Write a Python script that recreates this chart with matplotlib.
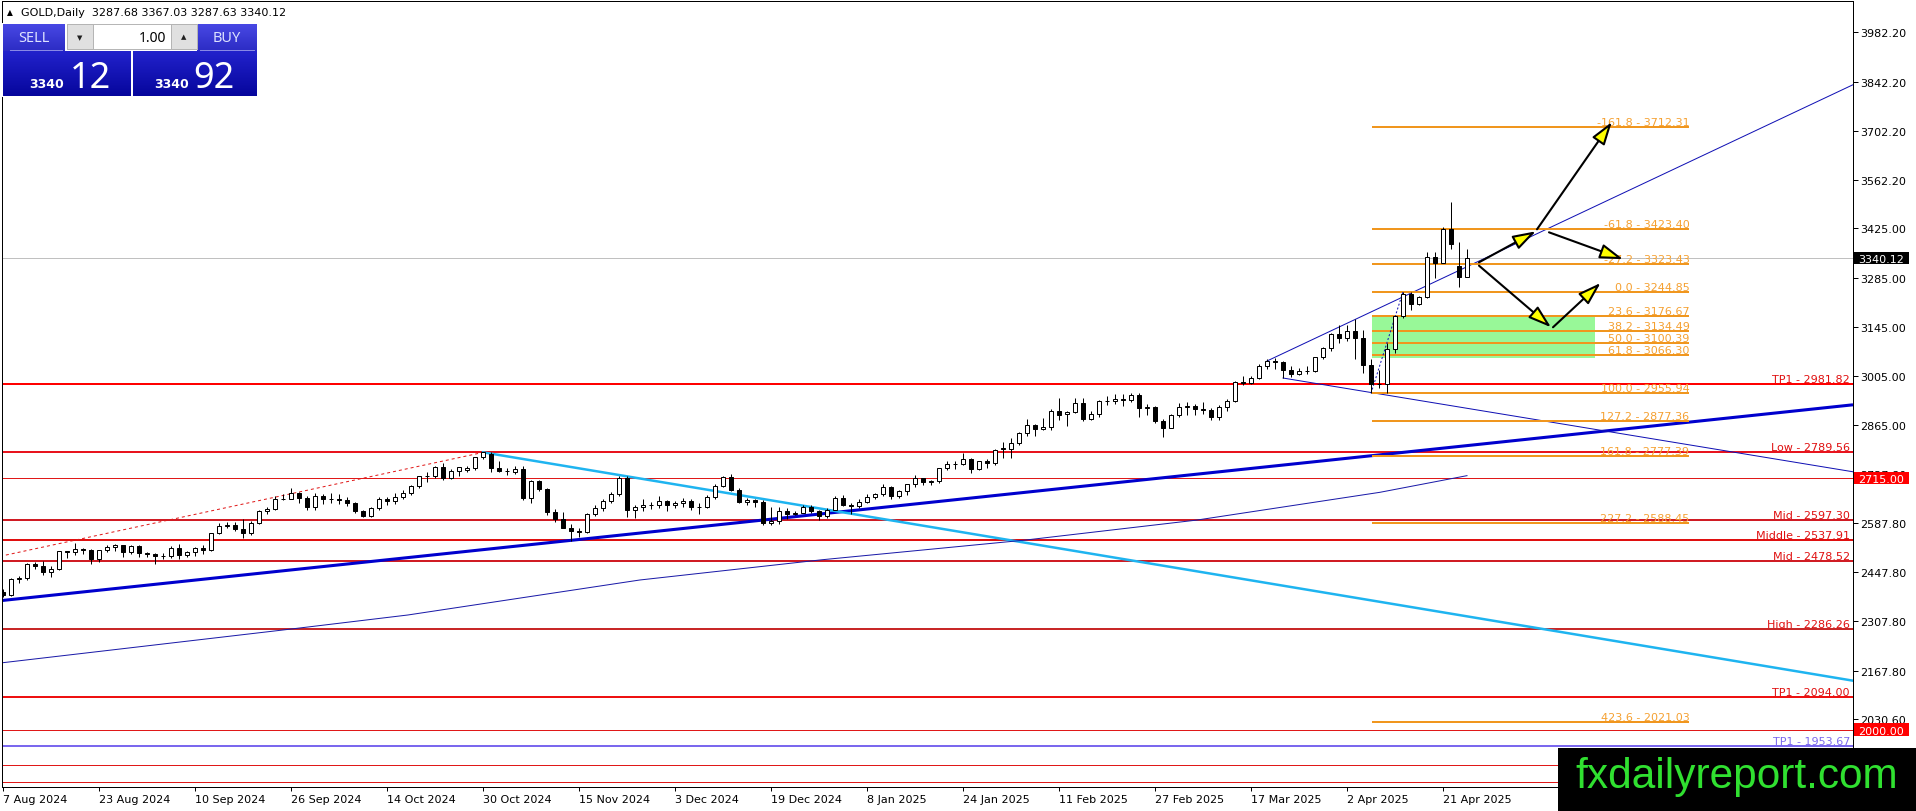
import numpy as np
import matplotlib
matplotlib.use("Agg")
import matplotlib.pyplot as plt
from matplotlib.patches import Rectangle, FancyArrowPatch
from matplotlib.colors import LinearSegmentedColormap
import matplotlib.transforms as mtransforms

# ---------------- data ----------------
opens = [2390,2382,2427,2431,2472,2465,2447,2456,2507,2504,2514,2512,2484,2512,2518,2524,2504,2521,2503,2500,
         2493,2495,2516,2497,2506,2516,2512,2558,2578,2582,2570,2559,2587,2622,2628,2657,2657,2672,2658,2634,
         2663,2657,2656,2653,2644,2622,2608,2630,2657,2649,2662,2674,2693,2721,2720,2748,2715,2736,2737,2743,
         2774,2783,2744,2736,2733,2742,2659,2706,2685,2619,2598,2573,2565,2563,2612,2631,2651,2670,2716,2625,
         2633,2638,2639,2650,2640,2643,2650,2632,2633,2660,2694,2718,2680,2648,2652,2646,2586,2594,2622,2612,
         2617,2634,2621,2606,2625,2658,2640,2636,2648,2662,2670,2690,2663,2677,2697,2714,2703,2708,2743,2755,
         2754,2770,2740,2763,2758,2800,2797,2815,2842,2866,2856,2861,2907,2898,2904,2928,2883,2898,2935,2933,
         2939,2936,2951,2915,2916,2876,2857,2893,2918,2920,2911,2910,2889,2916,2934,2988,2984,3001,3035,3047,
         3044,3023,3012,3020,3019,3058,3085,3124,3113,3134,3114,3037,2983,2982,3083,3176,3237,3211,3230,3343,
         3327,3424,3318,3287.68]
highs = [2400,2432,2438,2474,2477,2479,2464,2509,2509,2531,2517,2513,2512,2525,2528,2526,2524,2524,2506,2503,
         2503,2523,2529,2507,2518,2526,2560,2586,2590,2590,2600,2593,2625,2632,2664,2670,2686,2675,2665,2673,
         2670,2672,2670,2660,2646,2625,2633,2661,2660,2672,2680,2696,2722,2732,2749,2759,2740,2748,2750,2774,
         2790,2790,2763,2745,2750,2749,2711,2709,2686,2628,2618,2584,2574,2615,2639,2656,2675,2721,2722,2640,
         2657,2646,2665,2653,2651,2658,2655,2645,2668,2697,2721,2726,2688,2658,2655,2654,2632,2632,2630,2622,
         2638,2639,2623,2629,2665,2666,2643,2655,2670,2673,2697,2692,2680,2698,2724,2716,2711,2745,2763,2763,
         2786,2773,2765,2770,2799,2817,2830,2845,2882,2870,2886,2911,2942,2906,2942,2944,2905,2938,2947,2955,
         2954,2956,2956,2927,2921,2882,2896,2928,2930,2925,2930,2913,2924,2940,2990,3005,3004,3038,3055,3057,
         3047,3034,3029,3033,3060,3087,3128,3149,3149,3167,3136,3055,3023,3099,3176,3244.85,3245,3232,3357,3358,
         3430,3500,3386,3367.03]
lows = [2377,2380,2418,2425,2458,2440,2433,2453,2488,2497,2499,2470,2477,2504,2507,2491,2500,2492,2490,2472,
        2484,2489,2485,2490,2494,2500,2508,2556,2574,2564,2546,2553,2584,2613,2624,2652,2655,2643,2625,2624,
        2642,2643,2642,2637,2615,2605,2604,2625,2639,2641,2655,2667,2686,2705,2715,2709,2713,2722,2731,2737,
        2770,2731,2733,2725,2726,2652,2643,2677,2610,2590,2572,2537,2547,2560,2607,2622,2645,2665,2605,2603,
        2622,2627,2630,2622,2631,2633,2624,2614,2630,2657,2690,2677,2643,2640,2632,2583,2583,2584,2600,2609,
        2615,2616,2597,2603,2624,2636,2614,2629,2644,2657,2665,2656,2659,2668,2691,2696,2695,2700,2738,2742,
        2753,2730,2737,2745,2753,2773,2772,2810,2834,2834,2853,2853,2880,2864,2900,2876,2880,2890,2922,2925,
        2920,2930,2890,2893,2873,2833,2857,2888,2894,2894,2897,2880,2881,2906,2932,2979,2982,2998,3024,3025,
        2999,3002,3008,3011,3016,3055,3076,3100,3105,3054,3015,2955.94,2971,2957,3072,3170,3194,3206,3228,3284,
        3327,3366,3258,3287.63]
closes = [2382,2427,2431,2472,2465,2447,2456,2507,2504,2514,2512,2484,2512,2518,2524,2504,2521,2503,2500,2493,
          2495,2516,2497,2506,2516,2512,2558,2578,2582,2570,2559,2587,2622,2628,2657,2657,2672,2658,2634,2663,
          2657,2656,2653,2644,2622,2608,2630,2657,2649,2662,2674,2693,2721,2720,2748,2715,2736,2747,2743,2774,
          2788,2744,2736,2736,2742,2659,2706,2685,2619,2598,2573,2565,2563,2612,2631,2651,2670,2716,2625,2633,
          2638,2639,2650,2640,2643,2650,2632,2633,2660,2694,2718,2680,2648,2652,2646,2586,2594,2622,2612,2617,
          2634,2621,2606,2625,2658,2640,2636,2648,2662,2670,2690,2663,2677,2697,2714,2703,2708,2743,2755,2754,
          2770,2740,2763,2758,2794,2797,2815,2842,2866,2856,2861,2907,2894,2904,2928,2883,2898,2935,2933,2939,
          2936,2951,2915,2916,2876,2857,2893,2918,2920,2911,2910,2889,2916,2934,2988,2984,3001,3035,3047,3044,
          3023,3012,3020,3019,3058,3085,3124,3113,3134,3114,3037,2983,2982,3083,3176,3237,3211,3230,3343,3327,
          3424,3381,3288,3340.12]

date_labels = ['7 Aug 2024', '23 Aug 2024', '10 Sep 2024', '26 Sep 2024', '14 Oct 2024', '30 Oct 2024',
               '15 Nov 2024', '3 Dec 2024', '19 Dec 2024', '8 Jan 2025', '24 Jan 2025', '11 Feb 2025',
               '27 Feb 2025', '17 Mar 2025', '2 Apr 2025', '21 Apr 2025']
date_label_bars = [0, 12, 24, 36, 48, 60, 72, 84, 96, 108, 120, 132, 144, 156, 168, 180]

price_ticks = [3982.20, 3842.20, 3702.20, 3562.20, 3425.00, 3285.00, 3145.00, 3005.00, 2865.00,
               2727.80, 2587.80, 2447.80, 2307.80, 2167.80, 2030.60]

# long moving average
ma_bars = [-0.375, 35.3, 50.6, 79.6, 102.4, 127.8, 149.25, 172.1, 183]
ma_values = [2189.4, 2284.1, 2325.9, 2425.4, 2483.0, 2538.9, 2595.8, 2674.6, 2722.0]

# horizontal levels
red_level_names = ['TP1', 'Low', 'Mid', 'Middle', 'Mid', 'High', 'TP1']
red_level_values = [2981.82, 2789.56, 2597.30, 2537.91, 2478.52, 2286.26, 2094.00]
thin_red_levels = [2715.00, 2000.00, 1900.00, 1850.00]
blue_level_name = 'TP1'
blue_level_value = 1953.67

# Fibonacci retracement
fib_ratios = [-161.8, -61.8, -27.2, 0.0, 23.6, 38.2, 50.0, 61.8, 100.0, 127.2, 161.8, 227.2, 423.6]
fib_prices = [3712.31, 3423.40, 3323.43, 3244.85, 3176.67, 3134.49, 3100.39, 3066.30, 2955.94,
              2877.36, 2777.39, 2588.45, 2021.03]
fib_bars = [171.1, 210.8]
fib_anchor_bars = [171, 175]
fib_anchor_prices = [2955.94, 3244.85]
zone_bars = [171.1, 199.0]
zone_prices = [3055.5, 3172.0]

# trend lines (bar, price) end points
thick_blue_bars, thick_blue_prices = [-0.375, 231.25], [2366.5, 2923.4]
cyan_bars, cyan_prices = [60, 231.25], [2788.3, 2139.2]
red_dotted_bars, red_dotted_prices = [-0.375, 60], [2492.7, 2788.0]
upper_thin_bars, upper_thin_prices = [158, 231.25], [3047.9, 3833.2]
lower_thin_bars, lower_thin_prices = [160, 231.25], [2999.5, 2733.0]

# projection arrows (bar, price)
arrow_start_bars = [184.5, 191.75, 193.25, 184.5, 193.75]
arrow_start_prices = [3328.4, 3422.2, 3413.7, 3318.9, 3143.8]
arrow_end_bars = [191.6, 201.1, 202.5, 193.5, 199.7]
arrow_end_prices = [3416.5, 3727.2, 3337.3, 3143.8, 3269.7]

bid = closes[-1]
ask = 3340.92
lot = 1.00

# ---------------- figure ----------------
W, H = 1916, 812
L_px, R_px, T_px, B_px = 2, 1853, 2, 788
Y_TOP, Y_BOT = 4071.2, 1837.0
fig = plt.figure(figsize=(W / 100, H / 100), dpi=100, facecolor='white')
ax = fig.add_axes([L_px / W, 1 - B_px / H, (R_px - L_px) / W, (B_px - T_px) / H])
ax.set_xlim(-0.125, 231.25)
ax.set_ylim(Y_BOT, Y_TOP)
ax.set_facecolor('white')
px_per_unit = (B_px - T_px) / (Y_TOP - Y_BOT)

FONT = 'DejaVu Sans'
FS = 8
RED = '#ff0000'
DARKRED = '#d01c24'
ORANGE = '#f0961e'
ORANGE_TXT = '#f5a030'
lw1 = 0.72
lw2 = 1.44

for s in ax.spines.values():
    s.set_color('black')
    s.set_linewidth(lw1)

# y axis on the right
ax.yaxis.tick_right()
ax.set_yticks(price_ticks)
ax.set_yticklabels([f"{v:.2f}" for v in price_ticks], fontsize=FS, family=FONT)
ax.tick_params(axis='y', direction='out', length=3.6, width=lw1, pad=1.5, colors='black')

ax.set_xticks(date_label_bars)
ax.set_xticklabels(date_labels, fontsize=FS, family=FONT, ha='left')
ax.tick_params(axis='x', direction='out', length=3, width=lw1, pad=2, colors='black')

# background zone
ax.add_patch(Rectangle((zone_bars[0], zone_prices[0]), zone_bars[1] - zone_bars[0],
                       zone_prices[1] - zone_prices[0], facecolor='#98f898', edgecolor='none', zorder=0.5))

# bid line
ax.axhline(bid, color='#c0c0c0', lw=lw1, zorder=1)

# thin red levels
for v in thin_red_levels:
    ax.axhline(v, color='#e01818', lw=lw1, zorder=1.2)

# thick red levels with labels
red_styles = [RED, '#e8141e', DARKRED, '#e01010', DARKRED, '#c82828', '#ee1111']
for name, v, col in zip(red_level_names, red_level_values, red_styles):
    ax.axhline(v, color=col, lw=lw2, zorder=1.3)
    ax.annotate(f"{name} - {v:.2f}", xy=(1.0, v), xycoords=('axes fraction', 'data'),
                xytext=(-3, 2), textcoords='offset pixels', ha='right', va='baseline',
                color='#e01010', fontsize=FS, family=FONT, zorder=6)

ax.axhline(blue_level_value, color='#7b68ee', lw=lw2, zorder=1.3)
ax.annotate(f"{blue_level_name} - {blue_level_value:.2f}", xy=(1.0, blue_level_value),
            xycoords=('axes fraction', 'data'), xytext=(-3, 2), textcoords='offset pixels',
            ha='right', va='baseline', color='#7b68ee', fontsize=FS, family=FONT, zorder=6)

# trend lines
ax.plot(thick_blue_bars, thick_blue_prices, color='#0000cd', lw=2.2, zorder=1.6, solid_capstyle='butt')
ax.plot(cyan_bars, cyan_prices, color='#1eb4f0', lw=1.8, zorder=1.6)
ax.plot(red_dotted_bars, red_dotted_prices, color='#e01818', lw=lw1, ls=(0, (3, 3)), zorder=1.6)
ax.plot(upper_thin_bars, upper_thin_prices, color='#1010b4', lw=lw1, zorder=1.6)
ax.plot(lower_thin_bars, lower_thin_prices, color='#1010b4', lw=lw1, zorder=1.6)
ax.plot(ma_bars, ma_values, color='#1a1aa8', lw=lw1, zorder=1.6)

# Fibonacci
ax.hlines(fib_prices, fib_bars[0], fib_bars[1], color=ORANGE, lw=lw2, zorder=1.8)
ax.plot(fib_anchor_bars, fib_anchor_prices, color='#1010b4', lw=lw1, ls=(0, (2, 2)), zorder=1.9)
for r, p in zip(fib_ratios, fib_prices):
    ax.annotate(f"{r:.1f} - {p:.2f}", xy=(fib_bars[1], p), xytext=(0, 2), textcoords='offset pixels',
                ha='right', va='baseline', color=ORANGE_TXT, fontsize=FS, family=FONT, zorder=6)

# candles
o = np.array(opens, float); h = np.array(highs, float)
l = np.array(lows, float); c = np.array(closes, float)
x = np.arange(len(o))
up = c >= o
ax.vlines(x, l, h, color='black', lw=lw1, zorder=3)
bb = np.minimum(o, c); bh = np.abs(c - o)
ax.bar(x[up], bh[up], bottom=bb[up], width=0.58, facecolor='white', edgecolor='black',
       linewidth=lw1, zorder=4)
ax.bar(x[~up], bh[~up], bottom=bb[~up], width=0.58, facecolor='black', edgecolor='black',
       linewidth=lw1, zorder=4)

# arrows
for xs, ys, xe, ye in zip(arrow_start_bars, arrow_start_prices, arrow_end_bars, arrow_end_prices):
    ar = FancyArrowPatch((xs, ys), (xe, ye), arrowstyle='-|>,head_length=1.4,head_width=0.45',
                         mutation_scale=10, facecolor='#ffff00', edgecolor='black', lw=1.5,
                         shrinkA=0, shrinkB=0, zorder=7)
    ax.add_patch(ar)

# axis price boxes
blend = mtransforms.blended_transform_factory(ax.transAxes, ax.transData)
box_w = 55 / (R_px - L_px)
box_x0 = (1854 - L_px) / (R_px - L_px)
txt_x0 = (1858.5 - L_px) / (R_px - L_px)
half_h = 6.3 / px_per_unit
for v, fc in [(bid, 'black'), (2715.00, '#ff0000'), (2000.00, '#ff0000')]:
    ax.add_patch(Rectangle((box_x0, v - half_h), box_w, 2 * half_h, transform=blend,
                           facecolor=fc, edgecolor='none', clip_on=False, zorder=8))
    ax.text(txt_x0, v, f"{v:.2f}", transform=blend, ha='left', va='center_baseline', color='white',
            fontsize=FS, family=FONT, clip_on=False, zorder=9)

# ---------------- overlay (header, trade panel, logo) ----------------
ov = fig.add_axes([0, 0, 1, 1], zorder=10)
ov.set_xlim(0, W); ov.set_ylim(H, 0)
ov.axis('off')
ov.patch.set_alpha(0)

ov.text(10, 13, '\u25b2', fontsize=5.5, family=FONT, ha='center', va='center', color='black')
ov.text(21.5, 13, f"GOLD,Daily  {opens[-1]:.2f} {highs[-1]:.2f} {lows[-1]:.2f} {closes[-1]:.2f}",
        fontsize=FS, family=FONT, ha='left', va='center', color='black')


def grad_box(x0, x1, y0, y1, ctop, cbot):
    cm = LinearSegmentedColormap.from_list('g', [ctop, cbot])
    arr = np.linspace(0, 1, 64).reshape(-1, 1)
    ov.imshow(arr, cmap=cm, extent=(x0, x1, y1, y0), origin='upper', aspect='auto', zorder=1)


ov.add_patch(Rectangle((2, 24), 256, 74, facecolor='white', edgecolor='none', zorder=0.5))
grad_box(3.3, 65, 25, 52, '#4848e4', '#2c2cc4')
grad_box(196.7, 256.7, 25, 52, '#4848e4', '#2c2cc4')
ov.plot([10, 62], [51, 51], color='#8c8ce8', lw=0.7, zorder=2)
ov.plot([200, 254], [51, 51], color='#8c8ce8', lw=0.7, zorder=2)
grad_box(3.3, 131, 52, 97, '#2222cc', '#06069c')
grad_box(133.3, 256.7, 52, 97, '#2222cc', '#06069c')
# lot spinner
ov.add_patch(Rectangle((66.7, 25), 130, 25, facecolor='white', edgecolor='#b4b4b4', lw=0.7, zorder=2))
ov.add_patch(Rectangle((66.7, 25), 26, 25, facecolor='#e0e0e0', edgecolor='#b4b4b4', lw=0.7, zorder=2))
ov.add_patch(Rectangle((170.7, 25), 26, 25, facecolor='#e0e0e0', edgecolor='#b4b4b4', lw=0.7, zorder=2))
ov.text(79.7, 38, '\u25bc', fontsize=5, family=FONT, ha='center', va='center', color='#202020', zorder=3)
ov.text(183.7, 37.5, '\u25b2', fontsize=5, family=FONT, ha='center', va='center', color='#202020', zorder=3)
ov.text(166, 38, f"{lot:.2f}", fontsize=10, family='Noto Sans', ha='right', va='center', color='black', zorder=3)
ov.text(34, 38, 'SELL', fontsize=10.5, family='Noto Sans', ha='center', va='center', color='#dde2ff', zorder=3)
ov.text(227, 38, 'BUY', fontsize=10.5, family='Noto Sans', ha='center', va='center', color='#dde2ff', zorder=3)

bid_s = f"{bid:.2f}"; ask_s = f"{ask:.2f}"
ov.text(29, 88, bid_s[:4], fontsize=9, family='DejaVu Sans', weight='bold', ha='left', va='baseline',
        color='white', zorder=3)
ov.text(70, 88, bid_s[-2:], fontsize=26, family='Noto Sans', ha='left', va='baseline', color='white', zorder=3)
ov.text(154, 88, ask_s[:4], fontsize=9, family='DejaVu Sans', weight='bold', ha='left', va='baseline',
        color='white', zorder=3)
ov.text(193, 88, ask_s[-2:], fontsize=26, family='Noto Sans', ha='left', va='baseline', color='white', zorder=3)

# watermark logo
ov.add_patch(Rectangle((1558.5, 749.3), W - 1558.5, H - 749.3, facecolor='black', edgecolor='none', zorder=5))
ov.text(1737, 788, 'fxdailyreport.com', fontsize=30.5, family='Liberation Sans', ha='center',
        va='baseline', color='#30e030', zorder=6)

fig.savefig('out.png', dpi=100, facecolor='white')
